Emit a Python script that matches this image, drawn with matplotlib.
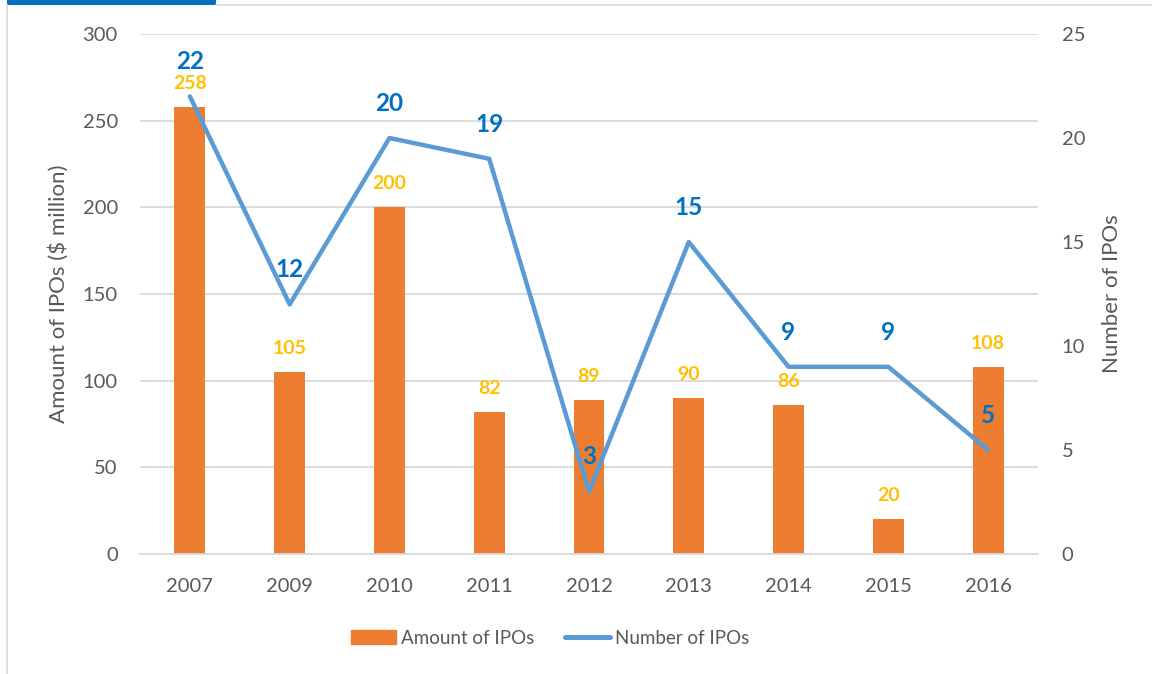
import numpy as np
import matplotlib.pyplot as plt
import matplotlib.patches as mpatches
from matplotlib.lines import Line2D

years = ["2007", "2009", "2010", "2011", "2012", "2013", "2014", "2015", "2016"]
amount = [258, 105, 200, 82, 89, 90, 86, 20, 108]
number = [22, 12, 20, 19, 3, 15, 9, 9, 5]

bar_color = "#ED7D31"
line_color = "#5B9BD5"
amount_lbl = "#FFC000"
number_lbl = "#0070C0"
text_color = "#595959"
grid_color = "#D9D9D9"

plt.rcParams['font.family'] = ['Lato', 'DejaVu Sans']

fig = plt.figure(figsize=(11.52, 6.74), dpi=100)
W, H = 1152, 674

# frame decorations
fig.add_artist(mpatches.Rectangle((7 / W, 1 - 5 / H), 209 / W, 5 / H, transform=fig.transFigure,
                                  color="#0070C0", lw=0))
fig.add_artist(Line2D([216 / W, 1], [1 - 5 / H, 1 - 5 / H], transform=fig.transFigure,
                      color=grid_color, lw=1.2))
fig.add_artist(Line2D([7 / W, 7 / W], [0, 1 - 5 / H], transform=fig.transFigure,
                      color=grid_color, lw=1.2))

ax = fig.add_axes([140 / W, 1 - 554 / H, 898 / W, 520 / H])
ax2 = ax.twinx()

x = np.arange(len(years))
ax.bar(x, amount, width=0.31, color=bar_color, zorder=2)
ax.set_xlim(-0.5, len(years) - 0.5)
ax.set_ylim(0, 300)
ax.set_yticks(range(0, 301, 50))
ax.grid(axis="y", color=grid_color, lw=1.3, zorder=0)
ax.set_axisbelow(True)

ax2.plot(x, number, color=line_color, lw=3.2, solid_capstyle="round", zorder=3)
ax2.set_ylim(0, 25)
ax2.set_yticks(range(0, 26, 5))

for a in (ax, ax2):
    for s in a.spines.values():
        s.set_visible(False)
    a.tick_params(length=0, labelsize=14.5, colors=text_color)
ax.spines["bottom"].set_visible(True)
ax.spines["bottom"].set_color(grid_color)
ax.spines["bottom"].set_linewidth(1.3)
ax.tick_params(axis="x", pad=17)
ax.tick_params(axis="y", pad=16)
ax2.tick_params(axis="y", pad=17)
ax.set_xticks(x)
ax.set_xticklabels(years)

ax.set_ylabel("Amount of IPOs ($ million)", fontsize=16, color=text_color, labelpad=10)
ax2.set_ylabel("Number of IPOs", fontsize=16, color=text_color, labelpad=12)

for xi, v in zip(x, amount):
    ax.annotate(str(v), (xi, v), xytext=(0, 17), textcoords="offset points",
                ha="center", va="center", fontsize=14, fontweight="bold", color=amount_lbl, zorder=5)
for xi, v in zip(x, number):
    ax2.annotate(str(v), (xi, v), xytext=(0, 25), textcoords="offset points",
                 ha="center", va="center", fontsize=17.5, fontweight="bold", color=number_lbl, zorder=5)

handles = [mpatches.Patch(color=bar_color, label="Amount of IPOs"),
           Line2D([], [], color=line_color, lw=3.6, solid_capstyle="round", label="Number of IPOs")]
fig.legend(handles=handles, loc="center", bbox_to_anchor=(550 / W, 1 - 638 / H), ncol=2,
           frameon=False, fontsize=13.5, labelcolor=text_color, handlelength=2.4,
           handletextpad=0.3, columnspacing=1.6)

fig.savefig("out.png", dpi=100)
